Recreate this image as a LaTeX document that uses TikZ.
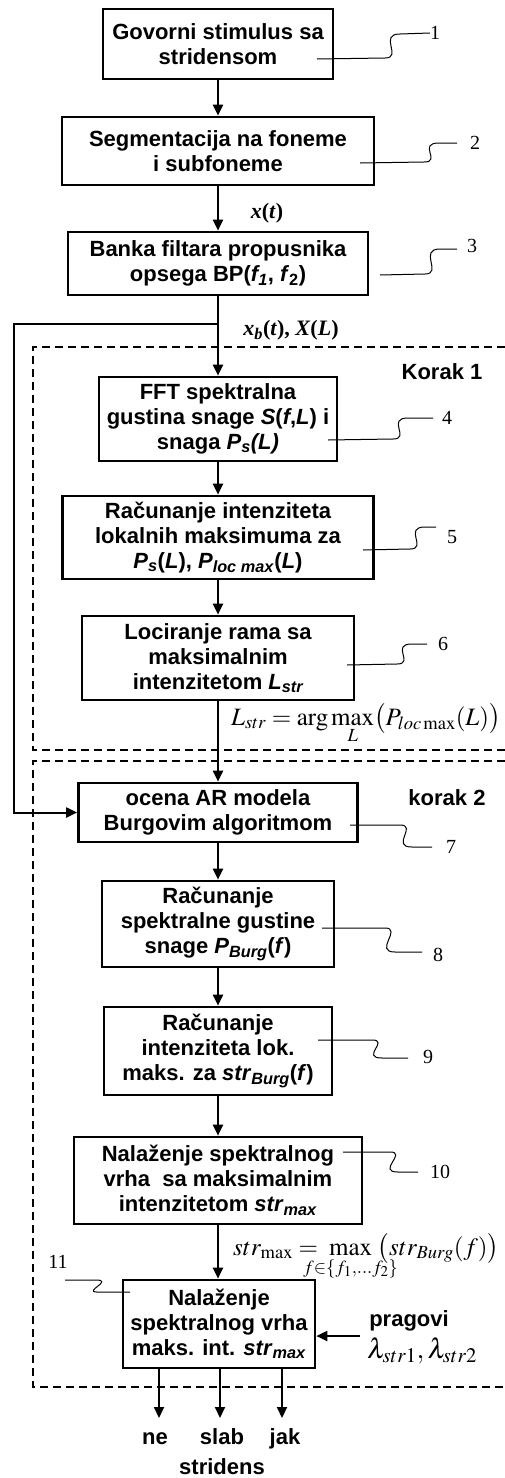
\documentclass[tikz,border=0pt]{standalone}
\usepackage{mathptmx}
\usepackage[no-math]{fontspec}
\setmainfont{Liberation Sans}
\newfontfamily\tnr{Liberation Serif}
\usetikzlibrary{arrows.meta}
\tikzset{
  box/.style={draw, line width=2.7pt, inner sep=0pt, align=center,
    font={\bfseries\fontsize{22}{25}\selectfont}},
  arr/.style={line width=2pt, -{Triangle[length=11pt,width=10pt]}},
  callout/.style={line width=1pt},
  num/.style={font={\tnr\fontsize{20}{22}\selectfont}, inner sep=0pt},
  lbl/.style={font={\bfseries\fontsize{22}{25}\selectfont}, inner sep=0pt},
  sig/.style={font={\tnr\bfseries\fontsize{22}{25}\selectfont}, inner sep=0pt},
  frm/.style={font={\fontsize{25}{30}\selectfont}, inner sep=0pt},
  dashbox/.style={line width=1.5pt, dash pattern=on 8pt off 5pt}
}
\begin{document}
\begin{tikzpicture}[x=1pt,y=-1pt]
\useasboundingbox (0,0) rectangle (505,1478);

% main boxes
\node[box, minimum width=230pt, minimum height=70pt] (b1) at (218,44)
  {Govorni stimulus sa\\stridensom};
\node[box, minimum width=312pt, minimum height=68pt] (b2) at (218,151)
  {Segmentacija na foneme\\i subfoneme};
\node[box, minimum width=300pt, minimum height=63pt] (b3) at (218,263.5)
  {Banka filtara propusnika\\opsega BP(\textit{f\textsubscript{1}}, \textit{f}\textsubscript{2})};
\node[box, minimum width=238pt, minimum height=84pt] (b4) at (218,419)
  {FFT spektralna\\gustina snage \textit{S}(\textit{f},\textit{L}) i\\snaga \textit{P\textsubscript{s}(L)}};
\node[box, minimum width=311pt, minimum height=83pt] (b5) at (218,537.5)
  {Računanje intenziteta\\lokalnih maksimuma za\\\textit{P}\textsubscript{\textit{s}}(\textit{L}), \textit{P}\textsubscript{\textit{loc max}}(\textit{L})};
\node[box, minimum width=272pt, minimum height=84pt] (b6) at (218,658)
  {Lociranje rama sa\\maksimalnim\\intenzitetom \textit{L\textsubscript{str}}};
\node[box, minimum width=279pt, minimum height=59pt] (b7) at (218,812.5)
  {ocena AR modela\\Burgovim algoritmom};
\node[box, minimum width=232pt, minimum height=86pt] (b8) at (218,924)
  {Računanje\\spektralne gustine\\snage \textit{P}\textsubscript{\textit{Burg}}(\textit{f})};
\node[box, minimum width=228pt, minimum height=88pt] (b9) at (218,1051)
  {Računanje\\intenziteta lok.\\maks. za \textit{str}\textsubscript{\textit{Burg}}(\textit{f})};
\node[box, minimum width=288pt, minimum height=87pt] (b10) at (218,1180.5)
  {Nalaženje spektralnog\\vrha\ \ sa maksimalnim\\intenzitetom \textit{str}\textsubscript{\textit{max}}};
\node[box, minimum width=192pt, minimum height=88pt] (b11) at (219,1324)
  {Nalaženje\\spektralnog vrha\\maks. int. \textit{str}\textsubscript{\textit{max}}};

% dashed step frames
\draw[dashbox] (505,347) -- (33,347) -- (33,750) -- (505,750);
\draw[dashbox] (505,761) -- (33,761) -- (33,1387) -- (505,1387);
\node[lbl] (k1) at (442,372) {Korak 1};
\node[lbl] (k2) at (447,798) {korak 2};

% main flow
\draw[arr] (b1.south) -- (b2.north);
\draw[arr] (b2.south) -- (b3.north);
\draw[arr] (b3.south) -- (b4.north);
\draw[arr] (b4.south) -- (b5.north);
\draw[arr] (b5.south) -- (b6.north);
\draw[arr] (b6.south) -- (b7.north);
\draw[arr] (b7.south) -- (b8.north);
\draw[arr] (b8.south) -- (b9.north);
\draw[arr] (b9.south) -- (b10.north);
\draw[arr] (b10.south) -- (b10.south |- b11.north);

% feedback branch
\coordinate (j) at (218,324);
\coordinate (jl) at (14,324);
\draw[arr] (j) -- (jl) |- (b7.west);

% signal labels
\node[sig] (xt) at (267,213) {\textit{x}(\textit{t})};
\node[sig] (xb) at (291,330) {\textit{x\textsubscript{b}}(\textit{t}), \textit{X}(\textit{L})};
\node[frm, anchor=base west] (f1) at (231,725)
  {$\displaystyle L_{str}=\mathrm{arg}\max_{L}\bigl(P_{loc\max}(L)\bigr)$};
\node[frm, anchor=base west] (f2) at (233,1255)
  {$\displaystyle str_{\max}=\;\max_{\makebox[0pt]{$\scriptstyle f\in\{f_1,\ldots f_2\}$}}\;\bigl(str_{Burg}(f)\bigr)$};

% thresholds
\node[lbl] (pr) at (409,1321) {pragovi};
\node[font={\fontsize{28}{30}\selectfont}, inner sep=0pt, anchor=base west] (lam) at (367,1358) {$\lambda_{str1},\lambda_{str2}$};
\coordinate (pa) at (360,1336);
\draw[arr] (pa) -- (pa -| b11.east);

% outputs
\coordinate (o1) at (159,1418);
\coordinate (o2) at (220,1418);
\coordinate (o3) at (282,1418);
\draw[arr] (o1 |- b11.south) -- (o1);
\draw[arr] (o2 |- b11.south) -- (o2);
\draw[arr] (o3 |- b11.south) -- (o3);
\node[lbl, anchor=base] (ne) at (155,1444) {ne};
\node[lbl, anchor=base] (sl) at (222,1444) {slab};
\node[lbl, anchor=base] (jk) at (285,1444) {jak};
\node[lbl, anchor=base] (st) at (222,1474) {stridens};

% callout numbers
\node[num] (n1) at (435,33) {1};
\node[num] (n2) at (475,143) {2};
\node[num] (n3) at (472,246) {3};
\node[num] (n4) at (447,418) {4};
\node[num] (n5) at (452,537) {5};
\node[num] (n6) at (443,644) {6};
\node[num] (n7) at (451,847) {7};
\node[num] (n8) at (438,955) {8};
\node[num] (n9) at (428,1057) {9};
\node[num] (n10) at (440,1172) {10};
\node[num] (n11) at (58,1262) {11};

% callout leaders
\draw[callout] (317,59) -- (385,58) .. controls +(18,0) and +(-22,0) .. (400,34) -- (n1.west);
\draw[callout] (360,163) -- (424,162) .. controls +(18,0) and +(-22,0) .. (439,143) -- (457,143);
\draw[callout] (380,275) -- (425,274) .. controls +(18,0) and +(-22,0) .. (440,249) -- (457,249);
\draw[callout] (328,440) -- (393,439) .. controls +(18,0) and +(-22,0) .. (408,418) -- (433,418);
\draw[callout] (363,550) -- (410,549) .. controls +(18,0) and +(-22,0) .. (425,527) -- (436,527);
\draw[callout] (347,665) -- (397,664) .. controls +(18,0) and +(-22,0) .. (412,644) -- (427,644);
\draw[callout] (350,825) -- (400,825) .. controls +(18,0) and +(-22,0) .. (412,847) -- (432,847);
\draw[callout] (322,928) -- (385,928) .. controls +(18,0) and +(-22,0) .. (395,952) -- (422,952);
\draw[callout] (318,1040) -- (372,1040) .. controls +(18,0) and +(-22,0) .. (382,1058) -- (408,1058);
\draw[callout] (343,1152) -- (390,1152) .. controls +(18,0) and +(-22,0) .. (398,1172) -- (418,1172);
\draw[callout] (130,1292) -- (97,1292) .. controls +(-14,0) and +(18,0) .. (96,1280) -- (65,1280);
\end{tikzpicture}
\end{document}
